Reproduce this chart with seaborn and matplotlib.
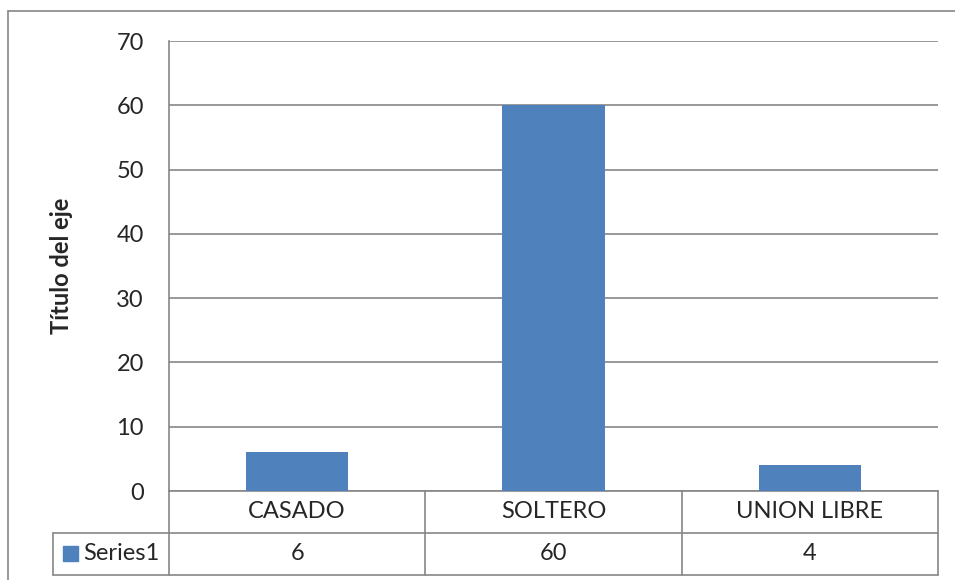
import matplotlib
matplotlib.use("Agg")
import matplotlib.pyplot as plt
import matplotlib.transforms as mtransforms
from matplotlib.lines import Line2D
from matplotlib.patches import Rectangle
import seaborn as sns
import pandas as pd

# data
categories = ["CASADO", "SOLTERO", "UNION LIBRE"]
values = [6, 60, 4]
series_name = "Series1"
y_label = "Título del eje"
y_ticks = [0, 10, 20, 30, 40, 50, 60, 70]

df = pd.DataFrame({"cat": categories, "val": values})

sns.set_style("white")
plt.rcParams["font.family"] = ["Lato", "DejaVu Sans"]

bar_color = "#4F81BD"
grid_color = "#868686"
fs = 17

fig = plt.figure(figsize=(9.55, 5.8), dpi=100)
ax = fig.add_axes([169 / 955, 89 / 580, 769 / 955, 450 / 580])

sns.barplot(data=df, x="cat", y="val", color=bar_color, width=0.4,
            saturation=1, linewidth=0, ax=ax, zorder=3)

ax.set_xlim(-0.5, 2.5)
ax.set_ylim(0, 70)
ax.set_yticks(y_ticks)
ax.tick_params(axis="y", labelsize=fs, length=0, pad=18)
ax.set_xticks([])
ax.set_xlabel("")
ax.set_ylabel(y_label, fontsize=17, fontweight="bold", labelpad=31)
ax.yaxis.grid(True, color=grid_color, linewidth=1.2)
ax.set_axisbelow(True)
for s in ["top", "right"]:
    ax.spines[s].set_visible(False)
for s in ["left", "bottom"]:
    ax.spines[s].set_color(grid_color)
    ax.spines[s].set_linewidth(1.2)

# data table under the axis
trans = mtransforms.blended_transform_factory(ax.transData, ax.transAxes)
row_h = 42 / 450
left_hdr = -0.5 - 116 / 256
lw = 1.2
# horizontal lines
ax.add_line(Line2D([-0.5, 2.5], [-row_h, -row_h], transform=trans, color=grid_color, lw=lw, clip_on=False))
ax.add_line(Line2D([left_hdr, -0.5], [-row_h, -row_h], transform=trans, color=grid_color, lw=lw, clip_on=False))
ax.add_line(Line2D([left_hdr, 2.5], [-2 * row_h, -2 * row_h], transform=trans, color=grid_color, lw=lw, clip_on=False))
# vertical lines
for xb in [-0.5, 0.5, 1.5, 2.5]:
    ax.add_line(Line2D([xb, xb], [0, -2 * row_h], transform=trans, color=grid_color, lw=lw, clip_on=False))
ax.add_line(Line2D([left_hdr, left_hdr], [-row_h, -2 * row_h], transform=trans, color=grid_color, lw=lw, clip_on=False))

for i, (c, v) in enumerate(zip(categories, values)):
    ax.text(i, -row_h / 2, c, transform=trans, ha="center", va="center", fontsize=fs)
    ax.text(i, -1.5 * row_h, str(v), transform=trans, ha="center", va="center", fontsize=fs)

# legend key in header cell
ax.add_patch(Rectangle((left_hdr + 10 / 256, -1.5 * row_h - 7 / 450), 15 / 256, 15 / 450,
                       transform=trans, color=bar_color, clip_on=False))
ax.text(left_hdr + 30 / 256, -1.5 * row_h, series_name, transform=trans,
        ha="left", va="center", fontsize=fs)

# outer chart frame
fig.add_artist(Line2D([8 / 955, 8 / 955], [0, 1 - 11 / 580], transform=fig.transFigure, color=grid_color, lw=1.2))
fig.add_artist(Line2D([8 / 955, 1], [1 - 11 / 580, 1 - 11 / 580], transform=fig.transFigure, color=grid_color, lw=1.2))

fig.savefig("out.png", dpi=100)
